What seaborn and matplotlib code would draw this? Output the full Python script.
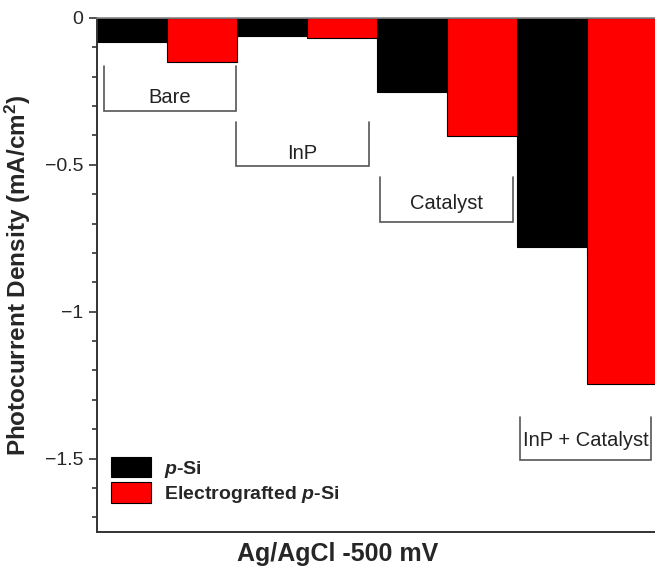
import matplotlib
matplotlib.use("Agg")
import matplotlib.pyplot as plt
import numpy as np
import pandas as pd
import seaborn as sns
from matplotlib.ticker import MultipleLocator, FuncFormatter

# values (mA/cm^2)
groups = ["Bare", "InP", "Catalyst", "InP + Catalyst"]
series = [r"$\mathbfit{p}$-Si", r"Electrografted $\mathbfit{p}$-Si"]
psi = [-0.082, -0.062, -0.252, -0.778]
egr = [-0.150, -0.069, -0.403, -1.246]

# bracket annotations under each group
br_left = [-0.45, 0.49, 1.52, 2.52]
br_right = [0.49, 1.44, 2.47, 3.46]
br_top = [-0.165, -0.355, -0.54, -1.36]
br_bot = [-0.317, -0.505, -0.693, -1.505]
lab_y = [-0.272, -0.462, -0.63, -1.437]

df = pd.DataFrame({
    "group": groups * 2,
    "series": [series[0]] * 4 + [series[1]] * 4,
    "value": psi + egr,
})

sns.set_style("ticks")
plt.rcParams["font.family"] = ["Liberation Sans", "DejaVu Sans"]
plt.rcParams["mathtext.fontset"] = "custom"
plt.rcParams["mathtext.rm"] = "Liberation Sans"
plt.rcParams["mathtext.bf"] = "Liberation Sans:bold"
plt.rcParams["mathtext.it"] = "Liberation Sans:italic"
plt.rcParams["mathtext.bfit"] = "Liberation Sans:italic:bold"

fig = plt.figure(figsize=(6.55, 5.67), dpi=100)
ax = fig.add_axes([97 / 655, 1 - 532 / 567, 560 / 655, 514 / 567])

sns.barplot(data=df, x="group", y="value", hue="series",
            palette=["#000000", "#ff0000"], width=1.0, gap=0,
            edgecolor="black", linewidth=0.8, saturation=1, ax=ax)

ax.set_xlim(-0.5, 3.5)
ax.set_ylim(-1.75, 0)

for i in range(len(groups)):
    ax.plot([br_left[i], br_left[i], br_right[i], br_right[i]],
            [br_top[i], br_bot[i], br_bot[i], br_top[i]],
            color="#555555", lw=1.2, solid_joinstyle="miter")
    ax.text((br_left[i] + br_right[i]) / 2, lab_y[i], groups[i],
            ha="center", va="center", fontsize=14.5, color="#222222")

ax.yaxis.set_major_locator(MultipleLocator(0.5))
ax.yaxis.set_minor_locator(MultipleLocator(0.1))
ax.yaxis.set_major_formatter(FuncFormatter(lambda v, p: ("%g" % v).replace("-", "\u2212")))
ax.tick_params(axis="y", which="major", length=6, width=1.2, labelsize=14,
               pad=4, color="#333333")
ax.tick_params(axis="y", which="minor", length=3.5, width=1.2, color="#333333")
ax.set_xticks([])

for s in ["left", "bottom"]:
    ax.spines[s].set_linewidth(1.4)
    ax.spines[s].set_color("#333333")
ax.spines["top"].set_color("#888888")
ax.spines["top"].set_linewidth(1.2)
ax.spines["right"].set_visible(False)

ax.set_ylabel("Photocurrent Density (mA/cm$^\\mathbf{2}$)", fontsize=17.5,
              fontweight="bold", labelpad=8)
ax.set_xlabel("Ag/AgCl -500 mV", fontsize=18, fontweight="bold")
ax.xaxis.set_label_coords((338 - 97) / 560, -0.02)

handles, labels = ax.get_legend_handles_labels()
ax.legend(handles, labels, loc="lower left", bbox_to_anchor=(0.025, 0.053),
          frameon=False, borderaxespad=0, borderpad=0,
          handlelength=2.07, handleheight=1.25, labelspacing=0.12,
          handletextpad=0.66, prop={"weight": "bold", "size": 14})

fig.savefig("out.png", dpi=100)
